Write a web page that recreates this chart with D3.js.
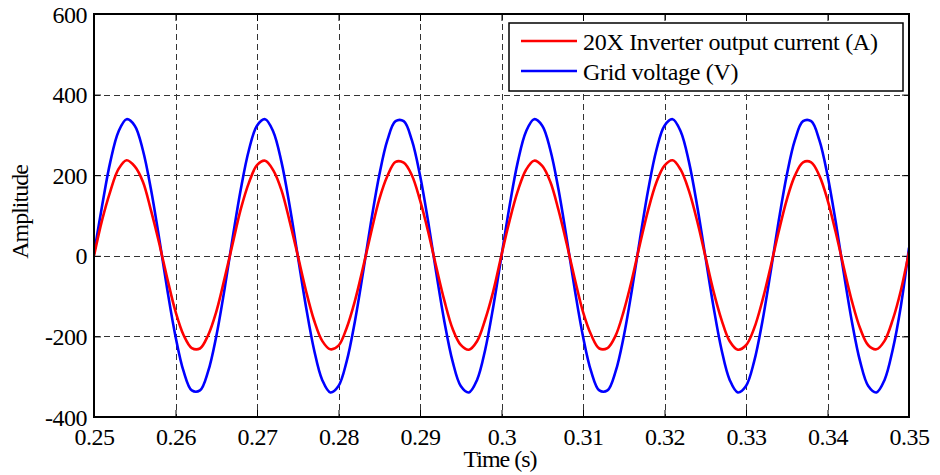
<!DOCTYPE html>
<html>
<head>
<meta charset="utf-8">
<script src="https://cdn.jsdelivr.net/npm/d3@7"></script>
<style>
  body { margin: 0; background: #fff; }
</style>
</head>
<body>
<svg id="chart" width="940" height="475"></svg>
<script>
// ---- data ----
const timeS = [
  0.250,0.251,0.252,0.253,0.254,0.255,0.256,0.257,0.258,0.259,
  0.260,0.261,0.262,0.263,0.264,0.265,0.266,0.267,0.268,0.269,
  0.270,0.271,0.272,0.273,0.274,0.275,0.276,0.277,0.278,0.279,
  0.280,0.281,0.282,0.283,0.284,0.285,0.286,0.287,0.288,0.289,
  0.290,0.291,0.292,0.293,0.294,0.295,0.296,0.297,0.298,0.299,
  0.300,0.301,0.302,0.303,0.304,0.305,0.306,0.307,0.308,0.309,
  0.310,0.311,0.312,0.313,0.314,0.315,0.316,0.317,0.318,0.319,
  0.320,0.321,0.322,0.323,0.324,0.325,0.326,0.327,0.328,0.329,
  0.330,0.331,0.332,0.333,0.334,0.335,0.336,0.337,0.338,0.339,
  0.340,0.341,0.342,0.343,0.344,0.345,0.346,0.347,0.348,0.349,
  0.350
];
const gridVoltage = [
  5,125,233,308,339,323,262,164,43,-85,
  -200,-287,-334,-334,-287,-200,-85,43,164,262,
  323,339,308,233,125,0,-125,-233,-308,-339,
  -323,-262,-164,-43,85,200,287,334,334,287,
  200,85,-43,-164,-262,-323,-339,-308,-233,-125,
  0,125,233,308,339,323,262,164,43,-85,
  -200,-287,-334,-334,-287,-200,-85,43,164,262,
  323,339,308,233,125,0,-125,-233,-308,-339,
  -323,-262,-164,-43,85,200,287,334,334,287,
  200,85,-43,-164,-262,-323,-339,-308,-233,-125,
  20
];
const inverterCurrent = [
  0,89,160,215,237,222,184,112,31,-57,
  -138,-197,-229,-230,-197,-139,-58,29,115,181,
  225,236,212,163,86,1,-86,-160,-211,-232,
  -223,-179,-113,-30,58,140,198,233,231,200,
  138,60,-28,-112,-181,-221,-233,-212,-158,-87,
  2,88,161,213,236,223,183,113,30,-58,
  -139,-196,-230,-229,-198,-137,-59,30,114,182,
  224,237,213,161,87,0,-87,-159,-212,-233,
  -222,-180,-112,-29,59,139,199,232,232,199,
  139,59,-29,-113,-180,-222,-232,-211,-159,-86,
  10
];
const xTicks = [0.25,0.26,0.27,0.28,0.29,0.30,0.31,0.32,0.33,0.34,0.35];
const xTickLabels = ["0.25","0.26","0.27","0.28","0.29","0.3","0.31","0.32","0.33","0.34","0.35"];
const yTicks = [-400,-200,0,200,400,600];
const yTickLabels = ["-400","-200","0","200","400","600"];
const seriesNames = ["20X Inverter output current (A)", "Grid voltage (V)"];
const seriesColors = ["#ff0000", "#0000ff"];

const FONT = '"Liberation Serif"';

// ---- layout ----
const svg = d3.select("#chart");
const plot = { left: 94, right: 909, top: 14, bottom: 417 };
const x = d3.scaleLinear().domain([0.25, 0.35]).range([plot.left, plot.right]);
const y = d3.scaleLinear().domain([-400, 600]).range([plot.bottom, plot.top]);

svg.append("rect").attr("width", 940).attr("height", 475).attr("fill", "#fff");

// grid
const grid = svg.append("g").attr("stroke", "#333").attr("stroke-width", 1)
  .attr("stroke-dasharray", "6,4").attr("fill", "none");
grid.selectAll(".vg").data(xTicks.slice(1, -1)).enter().append("line")
  .attr("x1", d => Math.round(x(d)) + 0.5).attr("x2", d => Math.round(x(d)) + 0.5)
  .attr("y1", plot.top).attr("y2", plot.bottom);
grid.selectAll(".hg").data(yTicks.slice(1, -1)).enter().append("line")
  .attr("y1", d => Math.round(y(d)) + 0.5).attr("y2", d => Math.round(y(d)) + 0.5)
  .attr("x1", plot.left).attr("x2", plot.right);

// axes (inward ticks, MATLAB style)
const xAxis = d3.axisBottom(x).tickValues(xTicks).tickSize(-7)
  .tickFormat((d, i) => xTickLabels[i]).tickPadding(14);
const gx = svg.append("g").attr("transform", `translate(0,${plot.bottom})`).call(xAxis);
gx.attr("font-family", null).attr("font-size", null);
gx.select(".domain").remove();
gx.selectAll("line").attr("stroke", "#000").attr("stroke-width", 1);
gx.selectAll("text").style("font-family", FONT).style("font-size", "24px")
  .attr("letter-spacing", -0.5).attr("dy", "0.6em");

const yAxis = d3.axisLeft(y).tickValues(yTicks).tickSize(-7)
  .tickFormat((d, i) => yTickLabels[i]).tickPadding(7);
const gy = svg.append("g").attr("transform", `translate(${plot.left},0)`).call(yAxis);
gy.attr("font-family", null).attr("font-size", null);
gy.select(".domain").remove();
gy.selectAll("line").attr("stroke", "#000").attr("stroke-width", 1);
gy.selectAll("text").style("font-family", FONT).style("font-size", "24px")
  .attr("letter-spacing", -0.5).attr("dy", "0.34em");

// top and right inward ticks
const xTop = d3.axisTop(x).tickValues(xTicks).tickSize(-7).tickFormat("");
const gxt = svg.append("g").attr("transform", `translate(0,${plot.top})`).call(xTop);
gxt.select(".domain").remove();
gxt.selectAll("line").attr("stroke", "#000");
const yRight = d3.axisRight(y).tickValues(yTicks).tickSize(-7).tickFormat("");
const gyr = svg.append("g").attr("transform", `translate(${plot.right},0)`).call(yRight);
gyr.select(".domain").remove();
gyr.selectAll("line").attr("stroke", "#000");

// lines
svg.append("clipPath").attr("id", "clip").append("rect")
  .attr("x", plot.left).attr("y", plot.top)
  .attr("width", plot.right - plot.left).attr("height", plot.bottom - plot.top);

const lineGen = d3.line().x(d => x(d[0])).y(d => y(d[1])).curve(d3.curveCatmullRom.alpha(0.5));
const lines = svg.append("g").attr("clip-path", "url(#clip)");
lines.append("path")
  .datum(timeS.map((t, i) => [t, gridVoltage[i]]))
  .attr("d", lineGen).attr("fill", "none")
  .attr("stroke", seriesColors[1]).attr("stroke-width", 2.6);
lines.append("path")
  .datum(timeS.map((t, i) => [t, inverterCurrent[i]]))
  .attr("d", lineGen).attr("fill", "none")
  .attr("stroke", seriesColors[0]).attr("stroke-width", 2.6);

// frame
svg.append("rect").attr("x", plot.left).attr("y", plot.top)
  .attr("width", plot.right - plot.left).attr("height", plot.bottom - plot.top)
  .attr("fill", "none").attr("stroke", "#000").attr("stroke-width", 2);

// axis labels
svg.append("text").attr("x", 500).attr("y", 467).attr("text-anchor", "middle")
  .style("font-family", FONT).style("font-size", "24px").attr("letter-spacing", -1)
  .text("Time (s)");
svg.append("text").attr("transform", "translate(28,212) rotate(-90)")
  .attr("text-anchor", "middle")
  .style("font-family", FONT).style("font-size", "24px").attr("letter-spacing", -1)
  .text("Amplitude");

// legend
const lg = svg.append("g");
lg.append("rect").attr("x", 509).attr("y", 23).attr("width", 394).attr("height", 68)
  .attr("fill", "#fff").attr("stroke", "#000").attr("stroke-width", 1.5);
const legendRows = [0, 1];
legendRows.forEach(i => {
  const ly = 41 + i * 30;
  lg.append("line").attr("x1", 521).attr("x2", 577).attr("y1", ly).attr("y2", ly)
    .attr("stroke", seriesColors[i]).attr("stroke-width", 2.6);
  lg.append("text").attr("x", 583).attr("y", ly + 9)
    .style("font-family", FONT).style("font-size", "24px")
    .attr("letter-spacing", -0.3).text(seriesNames[i]);
});
</script>
</body>
</html>
